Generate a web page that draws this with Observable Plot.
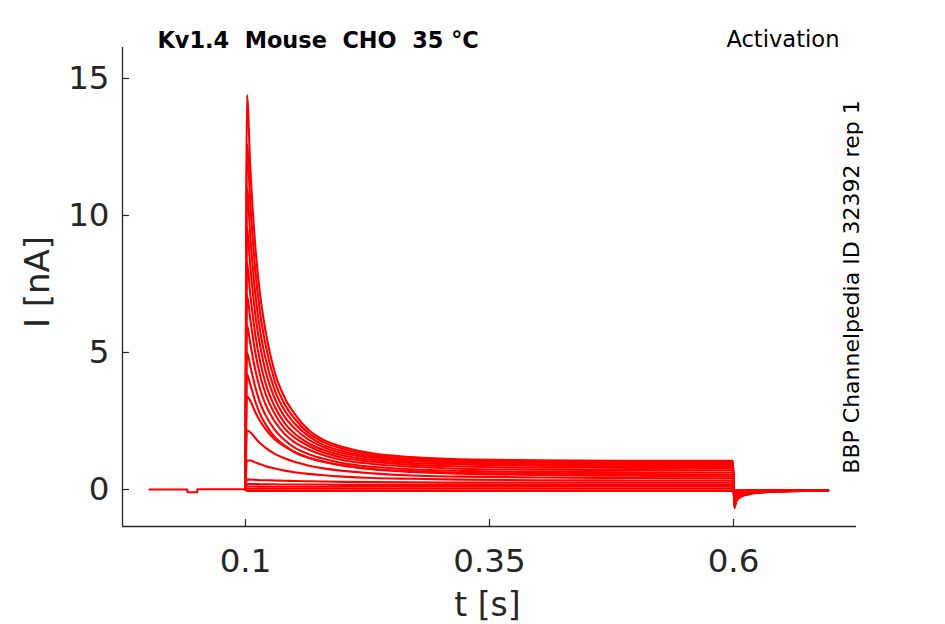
<!DOCTYPE html>
<html><head><meta charset="utf-8">
<script src="https://cdn.jsdelivr.net/npm/d3@7"></script>
<script src="https://cdn.jsdelivr.net/npm/@observablehq/plot@0.6"></script>
<style>
html,body{margin:0;padding:0;background:#fff;}
svg text{white-space:pre;}
</style></head><body><div id="chart"></div>
<script>
// ---- data ----
const xTicks = [0.1, 0.35, 0.6];
const xTickLabels = ["0.1", "0.35", "0.6"];
const yTicks = [0, 5, 10, 15];
const yTickLabels = ["0", "5", "10", "15"];
const xDomain = [-0.026, 0.726];
const yDomain = [-1.35, 16.13];

// holding period before the step (all sweeps overlap)
const preT = [0.0017, 0.0403, 0.0406, 0.0505, 0.0508, 0.1];
const preI = [0, 0, -0.1, -0.1, 0.01, 0.01];

// sample times of the step and the tail
const stepT = [0.1, 0.1015, 0.105, 0.11, 0.115, 0.12, 0.13, 0.14, 0.15, 0.165, 0.18, 0.2, 0.23, 0.27, 0.32, 0.4, 0.5, 0.5995,
               0.6008, 0.603, 0.607, 0.615, 0.63, 0.65, 0.68, 0.697];

// one current sweep (nA) per voltage step
const sweep1  = [0, 14.4, 11.7, 8.9, 7.1, 5.90, 4.28, 3.36, 2.78, 2.16, 1.81, 1.55, 1.32, 1.18, 1.10, 1.07, 1.05, 1.05, -0.68, -0.42, -0.28, -0.18, -0.11, -0.07, -0.05, -0.04];
const sweep2  = [0, 12.6, 10.4, 8.02, 6.44, 5.38, 3.95, 3.12, 2.60, 2.05, 1.73, 1.48, 1.27, 1.13, 1.06, 1.02, 1.0, 1.0, -0.64, -0.40, -0.27, -0.17, -0.10, -0.07, -0.05, -0.04];
const sweep3  = [0, 11.0, 9.2, 7.16, 5.80, 4.86, 3.62, 2.89, 2.42, 1.94, 1.63, 1.40, 1.21, 1.08, 1.01, 0.98, 0.95, 0.95, -0.61, -0.38, -0.25, -0.16, -0.10, -0.06, -0.05, -0.04];
const sweep4  = [0, 9.6, 8.12, 6.40, 5.24, 4.40, 3.32, 2.66, 2.24, 1.81, 1.54, 1.32, 1.15, 1.03, 0.96, 0.92, 0.90, 0.90, -0.58, -0.36, -0.24, -0.15, -0.09, -0.06, -0.05, -0.04];
const sweep5  = [0, 8.3, 7.09, 5.66, 4.66, 3.94, 3.02, 2.43, 2.05, 1.68, 1.44, 1.24, 1.08, 0.97, 0.91, 0.87, 0.85, 0.85, -0.55, -0.34, -0.23, -0.15, -0.09, -0.06, -0.04, -0.04];
const sweep6  = [0, 7.1, 6.18, 5.01, 4.16, 3.55, 2.76, 2.23, 1.90, 1.58, 1.35, 1.16, 1.01, 0.90, 0.84, 0.80, 0.79, 0.78, -0.50, -0.31, -0.21, -0.14, -0.08, -0.06, -0.04, -0.04];
const sweep7  = [0, 6.0, 5.31, 4.37, 3.66, 3.15, 2.48, 2.03, 1.73, 1.45, 1.25, 1.07, 0.93, 0.83, 0.76, 0.72, 0.71, 0.70, -0.45, -0.28, -0.19, -0.12, -0.08, -0.05, -0.04, -0.03];
const sweep8  = [0, 5.0, 4.49, 3.74, 3.16, 2.75, 2.18, 1.81, 1.54, 1.29, 1.12, 0.96, 0.83, 0.74, 0.68, 0.64, 0.63, 0.62, -0.40, -0.25, -0.17, -0.11, -0.07, -0.05, -0.04, -0.03];
const sweep9  = [0, 4.2, 3.82, 3.22, 2.75, 2.41, 1.92, 1.61, 1.37, 1.16, 1.01, 0.87, 0.75, 0.67, 0.61, 0.58, 0.56, 0.55, -0.36, -0.22, -0.15, -0.10, -0.06, -0.05, -0.04, -0.03];
const sweep10 = [0, 3.4, 3.23, 2.82, 2.50, 2.23, 1.83, 1.57, 1.37, 1.15, 1.01, 0.88, 0.74, 0.64, 0.58, 0.53, 0.50, 0.48, -0.32, -0.20, -0.13, -0.09, -0.06, -0.04, -0.03, -0.03];
const sweep11 = [0, 2.15, 2.09, 1.88, 1.69, 1.54, 1.30, 1.14, 1.01, 0.87, 0.77, 0.68, 0.59, 0.51, 0.47, 0.44, 0.42, 0.41, -0.25, -0.16, -0.11, -0.07, -0.05, -0.04, -0.03, -0.03];
const sweep12 = [0, 1.06, 1.06, 0.99, 0.92, 0.86, 0.77, 0.69, 0.63, 0.57, 0.52, 0.47, 0.42, 0.39, 0.36, 0.34, 0.33, 0.33, -0.19, -0.12, -0.08, -0.06, -0.04, -0.03, -0.03, -0.03];
const sweep13 = [0, 0.36, 0.36, 0.35, 0.34, 0.34, 0.33, 0.32, 0.31, 0.30, 0.29, 0.28, 0.27, 0.26, 0.25, 0.25, 0.25, 0.25, -0.14, -0.09, -0.06, -0.05, -0.04, -0.03, -0.03, -0.03];
const sweep14 = [0, 0.2, 0.2, 0.2, 0.19, 0.19, 0.19, 0.18, 0.18, 0.18, 0.18, 0.17, 0.17, 0.17, 0.17, 0.17, 0.17, 0.17, -0.08, -0.06, -0.05, -0.04, -0.03, -0.03, -0.03, -0.03];
const sweep15 = [0, 0.11, 0.11, 0.11, 0.1, 0.1, 0.1, 0.1, 0.1, 0.1, 0.1, 0.1, 0.1, 0.1, 0.1, 0.1, 0.1, 0.1, -0.05, -0.04, -0.04, -0.03, -0.03, -0.03, -0.03, -0.03];
const sweep16 = [0, 0.03, 0.03, 0.03, 0.03, 0.03, 0.03, 0.03, 0.03, 0.03, 0.03, 0.03, 0.03, 0.03, 0.03, 0.03, 0.03, 0.03, -0.03, -0.03, -0.03, -0.03, -0.03, -0.03, -0.03, -0.03];
const sweep17 = [0, -0.05, -0.05, -0.05, -0.05, -0.05, -0.05, -0.05, -0.05, -0.05, -0.05, -0.05, -0.05, -0.05, -0.05, -0.05, -0.05, -0.05, -0.04, -0.04, -0.04, -0.04, -0.04, -0.04, -0.04, -0.04];

const sweeps = [sweep1, sweep2, sweep3, sweep4, sweep5, sweep6, sweep7, sweep8, sweep9,
                sweep10, sweep11, sweep12, sweep13, sweep14, sweep15, sweep16, sweep17];

const titleText = "Kv1.4  Mouse  CHO  35 °C";
const protocolText = "Activation";
const sourceText = "BBP Channelpedia ID 32392 rep 1";
const xLabel = "t [s]";
const yLabel = "I [nA]";

// ---- build tables ----
const rows = [];
sweeps.forEach((s, k) => s.forEach((v, j) => rows.push({sweep: k, t: stepT[j], i: v})));
const pre = preT.map((t, j) => ({t, i: preI[j]}));

const W = 945, H = 624, mL = 122, mR = 89, mT = 47, mB = 98;
const frameW = W - mL - mR, frameH = H - mT - mB;
const axisColor = "#262626";
const red = "#ff0000";

const chart = Plot.plot({
  width: W, height: H,
  marginLeft: mL, marginRight: mR, marginTop: mT, marginBottom: mB,
  style: {fontFamily: "DejaVu Sans", background: "#fff", overflow: "visible"},
  x: {domain: xDomain},
  y: {domain: yDomain},
  marks: [
    Plot.line(pre, {x: "t", y: "i", stroke: red, strokeWidth: 2.2}),
    Plot.line(rows, {x: "t", y: "i", z: "sweep", stroke: red, strokeWidth: 2.1, curve: "monotone-x"}),
    Plot.ruleX([xDomain[0]], {stroke: axisColor, strokeWidth: 1.3}),
    Plot.ruleY([yDomain[0]], {stroke: axisColor, strokeWidth: 1.3}),
    Plot.ruleX(xTicks, {insetTop: frameH - 7, stroke: axisColor, strokeWidth: 1.2}),
    Plot.ruleY(yTicks, {insetRight: frameW - 7, stroke: axisColor, strokeWidth: 1.2}),
    Plot.axisX(xTicks, {tickSize: 0, tickPadding: 22, fontSize: 32.5, color: axisColor, label: null,
      tickFormat: d => xTickLabels[xTicks.indexOf(d)]}),
    Plot.axisY(yTicks, {tickSize: 0, tickPadding: 13, fontSize: 32.5, color: axisColor, label: null,
      tickFormat: d => yTickLabels[yTicks.indexOf(d)]}),
    Plot.text([xLabel], {text: d => d, frameAnchor: "bottom", dy: 89, dx: -2, lineAnchor: "bottom", textAnchor: "middle",
      fontSize: 33, fill: axisColor}),
    Plot.text([yLabel], {text: d => d, frameAnchor: "left", dx: -84, dy: -5, rotate: -90, lineAnchor: "middle",
      textAnchor: "middle", fontSize: 34, fill: axisColor}),
    Plot.text([titleText], {text: d => d, frameAnchor: "top-left", dx: 35, dy: 0, lineAnchor: "bottom",
      textAnchor: "start", fontSize: 22.4, fontWeight: "bold", fill: "#000"}),
    Plot.text([protocolText], {text: d => d, frameAnchor: "top-right", dx: -17, dy: -1, lineAnchor: "bottom",
      textAnchor: "end", fontSize: 22.6, fill: "#000"}),
    Plot.text([sourceText], {text: d => d, frameAnchor: "right", dx: 2, dy: 0, rotate: -90, lineAnchor: "bottom",
      textAnchor: "middle", fontSize: 22, fill: "#000"})
  ]
});
document.getElementById("chart").appendChild(chart);
</script></body></html>
